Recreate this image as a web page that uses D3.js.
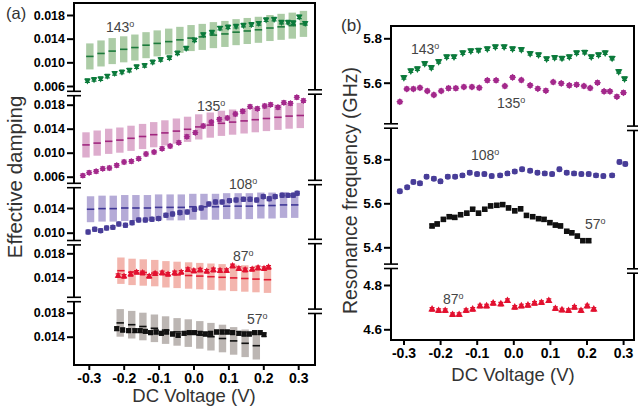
<!DOCTYPE html>
<html><head><meta charset="utf-8">
<script src="https://cdn.jsdelivr.net/npm/d3@7"></script>
<style>
body{margin:0;background:#fff}
svg{display:block}
text{font-family:"Liberation Sans",Arial,Helvetica,sans-serif}
</style>
</head><body>
<svg id="c" width="638" height="414"></svg>
<script>
// ================= DATA =================
const xTicks = [-0.3, -0.2, -0.1, 0.0, 0.1, 0.2, 0.3];
const angleLabels = ["143", "135", "108", "87", "57"];

// ---- (a) Effective damping: measured points ----
const damp143X = [-0.304,-0.285,-0.266,-0.247,-0.226,-0.205,-0.184,-0.163,-0.140,-0.117,-0.094,-0.069,-0.046,-0.021,0.003,0.028,0.053,0.076,0.099,0.122,0.143,0.166,0.187,0.208,0.231,0.252,0.271,0.286,0.303,0.320];
const damp143Y = [0.00690,0.00713,0.00723,0.00769,0.00815,0.00837,0.00870,0.00926,0.00950,0.01006,0.0105,0.0108,0.0116,0.0124,0.0138,0.0147,0.0151,0.0158,0.0160,0.0161,0.0163,0.0164,0.0166,0.0172,0.0173,0.0168,0.0168,0.0167,0.0177,0.0166];

const damp135X = [-0.317,-0.299,-0.279,-0.260,-0.241,-0.220,-0.199,-0.178,-0.157,-0.136,-0.113,-0.090,-0.067,-0.042,-0.019,0.005,0.028,0.051,0.074,0.097,0.120,0.141,0.162,0.183,0.204,0.221,0.242,0.259,0.278,0.296,0.315];
const damp135Y = [0.00618,0.00667,0.0069,0.00733,0.00745,0.0079,0.00845,0.00857,0.0090,0.00978,0.0101,0.01067,0.0111,0.01167,0.01267,0.01333,0.01445,0.0151,0.01557,0.01578,0.01645,0.0169,0.01767,0.01733,0.01778,0.0180,0.01757,0.01833,0.01823,0.01923,0.01867];

const damp108X = [-0.302,-0.283,-0.266,-0.249,-0.231,-0.214,-0.195,-0.176,-0.157,-0.138,-0.119,-0.100,-0.079,-0.060,-0.039,-0.018,0.003,0.022,0.044,0.063,0.082,0.103,0.122,0.143,0.162,0.181,0.200,0.217,0.234,0.254,0.271,0.286,0.297];
const damp108Y = [0.01011,0.01055,0.01033,0.01076,0.01087,0.01141,0.0112,0.01162,0.01206,0.01206,0.01217,0.01228,0.01282,0.01303,0.01325,0.01335,0.01379,0.0140,0.01465,0.01497,0.01497,0.01519,0.0153,0.01541,0.01541,0.0153,0.01584,0.01551,0.01584,0.01605,0.01605,0.01605,0.01638];

const damp87X = [-0.216,-0.199,-0.180,-0.163,-0.146,-0.127,-0.110,-0.090,-0.073,-0.054,-0.035,-0.016,0.001,0.019,0.038,0.057,0.076,0.095,0.112,0.130,0.148,0.168,0.185,0.202,0.215];
const damp87Y = [0.01427,0.01416,0.0145,0.01483,0.01472,0.01416,0.0146,0.01472,0.0145,0.01472,0.01483,0.01527,0.01505,0.01520,0.0150,0.01522,0.0151,0.0151,0.01588,0.01543,0.01522,0.01533,0.01555,0.01543,0.01567];

const damp57X = [-0.220,-0.203,-0.186,-0.168,-0.153,-0.138,-0.123,-0.107,-0.092,-0.077,-0.060,-0.044,-0.027,-0.012,0.003,0.019,0.034,0.049,0.066,0.082,0.097,0.112,0.130,0.145,0.160,0.175,0.191,0.202];
const damp57Y = [0.01533,0.01512,0.0150,0.0150,0.0150,0.0149,0.01467,0.01478,0.01457,0.01478,0.01445,0.01423,0.01457,0.01467,0.01467,0.01457,0.01445,0.01457,0.01478,0.01478,0.01478,0.01467,0.01457,0.01445,0.01445,0.01467,0.01467,0.01433];

const dampErr = 0.0003;

// ---- (a) model bands: centre value and half-width ----
const band143X = [-0.297,-0.265,-0.233,-0.200,-0.168,-0.136,-0.104,-0.071,-0.039,-0.007,0.025,0.057,0.090,0.122,0.154,0.186,0.219,0.251,0.283,0.315];
const band143C = [0.0110,0.0115,0.0119,0.0122,0.0125,0.0129,0.0132,0.0135,0.0138,0.0141,0.0143,0.0146,0.0148,0.0151,0.0153,0.0155,0.0158,0.0160,0.0162,0.0165];
const band143H = 0.0022;

const band135X = [-0.308,-0.276,-0.243,-0.211,-0.179,-0.146,-0.114,-0.082,-0.049,-0.017,0.015,0.048,0.080,0.112,0.145,0.177,0.209,0.242,0.274,0.306];
const band135C = [0.0113,0.0116,0.0119,0.0121,0.0124,0.0127,0.0130,0.0133,0.0136,0.0139,0.0143,0.0146,0.0149,0.0151,0.0153,0.0155,0.0157,0.0159,0.0161,0.0162];
const band135H = 0.0021;

const band108X = [-0.295,-0.262,-0.230,-0.197,-0.165,-0.132,-0.100,-0.067,-0.035,-0.002,0.030,0.063,0.095,0.128,0.160,0.193,0.225,0.258,0.290];
const band108C = [0.0138,0.0139,0.0139,0.0140,0.0140,0.0140,0.0141,0.0141,0.0141,0.0142,0.0142,0.0142,0.0143,0.0143,0.0143,0.0144,0.0144,0.0145,0.0145];
const band108H = 0.0021;

const band87X = [-0.208,-0.176,-0.144,-0.111,-0.079,-0.047,-0.014,0.018,0.050,0.082,0.115,0.147,0.179,0.212];
const band87C = [0.0151,0.0149,0.0148,0.0147,0.0145,0.0144,0.0143,0.0142,0.0141,0.0140,0.0139,0.0138,0.0137,0.0136];
const band87H = 0.0022;

const band57X = [-0.210,-0.177,-0.145,-0.112,-0.080,-0.047,-0.015,0.018,0.050,0.083,0.115,0.148,0.180];
const band57C = [0.0163,0.0160,0.0157,0.0154,0.0151,0.0148,0.0146,0.0143,0.0140,0.0137,0.0133,0.0129,0.0125];
const band57H = 0.0023;

// ---- (b) Resonance frequency (GHz) ----
const freq143X = [-0.299,-0.280,-0.262,-0.242,-0.224,-0.204,-0.182,-0.162,-0.138,-0.116,-0.095,-0.071,-0.049,-0.025,-0.002,0.022,0.046,0.069,0.091,0.113,0.133,0.153,0.173,0.195,0.213,0.233,0.251,0.270,0.288,0.304];
const freq143Y = [5.624,5.654,5.663,5.687,5.669,5.696,5.717,5.717,5.735,5.744,5.747,5.753,5.762,5.762,5.753,5.750,5.732,5.726,5.708,5.714,5.711,5.717,5.735,5.738,5.717,5.726,5.735,5.711,5.651,5.618];

const freq135X = [-0.310,-0.291,-0.273,-0.255,-0.235,-0.217,-0.197,-0.177,-0.157,-0.135,-0.113,-0.093,-0.071,-0.047,-0.023,-0.002,0.022,0.046,0.067,0.089,0.109,0.131,0.153,0.173,0.193,0.210,0.230,0.248,0.264,0.283,0.301];
const freq135Y = [5.514,5.572,5.572,5.577,5.563,5.545,5.563,5.575,5.575,5.581,5.581,5.577,5.611,5.611,5.585,5.624,5.612,5.588,5.573,5.564,5.603,5.597,5.588,5.591,5.585,5.576,5.600,5.561,5.561,5.537,5.555];

const freq108X = [-0.310,-0.290,-0.273,-0.255,-0.237,-0.217,-0.199,-0.179,-0.159,-0.139,-0.119,-0.099,-0.079,-0.059,-0.036,-0.016,0.004,0.024,0.046,0.066,0.086,0.106,0.126,0.146,0.166,0.186,0.206,0.226,0.246,0.270,0.290,0.306];
const freq108Y = [5.655,5.673,5.697,5.691,5.721,5.712,5.700,5.721,5.721,5.727,5.739,5.733,5.733,5.724,5.727,5.736,5.745,5.755,5.748,5.739,5.736,5.733,5.755,5.739,5.736,5.733,5.733,5.727,5.724,5.727,5.788,5.779];

const freq57X = [-0.222,-0.208,-0.191,-0.175,-0.160,-0.144,-0.127,-0.111,-0.095,-0.078,-0.062,-0.045,-0.029,-0.013,0.004,0.020,0.036,0.053,0.069,0.084,0.100,0.115,0.129,0.146,0.160,0.175,0.190,0.206];
const freq57Y = [5.497,5.506,5.527,5.539,5.536,5.548,5.555,5.573,5.555,5.573,5.588,5.591,5.594,5.579,5.566,5.575,5.545,5.539,5.530,5.527,5.512,5.501,5.497,5.473,5.466,5.451,5.430,5.430];

const freq87X = [-0.222,-0.204,-0.186,-0.166,-0.148,-0.129,-0.111,-0.091,-0.073,-0.055,-0.034,-0.016,0.004,0.022,0.040,0.058,0.077,0.097,0.115,0.133,0.151,0.167,0.185,0.202,0.220];
const freq87Y = [4.690,4.684,4.684,4.666,4.666,4.684,4.690,4.705,4.705,4.717,4.714,4.729,4.699,4.705,4.708,4.717,4.720,4.729,4.693,4.687,4.684,4.699,4.684,4.705,4.690];

const freqErr = 0.008;

// ================= STYLE / LAYOUT =================
const C = {
  g: {mk:"#0b7a3b", band:"#acccA6", line:"#1c7a3c"},
  m: {mk:"#a3288b", band:"#ddaccd", line:"#a0267f"},
  b: {mk:"#483d98", band:"#b5abd7", line:"#3f3796"},
  r: {mk:"#e2102f", band:"#f3b5ad", line:"#e21b33"},
  k: {mk:"#111111", band:"#bcb6b3", line:"#111111"}
};
const svg = d3.select("#c");
const AXW = 2;

const PA = {x0:74, x1:315, top:3, bottom:365};
const PB = {x0:391, x1:634, top:26, bottom:340};
const xA = d3.scaleLinear().domain([-0.3, 0.3]).range([88.8, 298.2]);
const xB = d3.scaleLinear().domain([-0.3, 0.3]).range([403.5, 623.1]);

const yA143 = d3.scaleLinear().domain([0.006, 0.018]).range([86, 15]);
const yA135 = d3.scaleLinear().domain([0.006, 0.018]).range([176.7, 104.7]);
const yA108 = d3.scaleLinear().domain([0.010, 0.014]).range([232.7, 208]);
const yA87  = d3.scaleLinear().domain([0.014, 0.018]).range([277.3, 253.3]);
const yA57  = d3.scaleLinear().domain([0.014, 0.018]).range([336.7, 312.7]);

const yBtop = d3.scaleLinear().domain([5.6, 5.8]).range([82.7, 38.3]);
const yBmid = d3.scaleLinear().domain([5.4, 5.8]).range([247.3, 159.3]);
const yBbot = d3.scaleLinear().domain([4.6, 4.8]).range([329.3, 285]);

// ================= HELPERS =================
function brokenV(x, y0, y1, breaks) {
  const pts = [y0];
  breaks.forEach(b => { pts.push(b - 2.2); pts.push(b + 2.2); });
  pts.push(y1);
  for (let i = 0; i < pts.length; i += 2) {
    svg.append("line").attr("x1", x).attr("x2", x).attr("y1", pts[i]).attr("y2", pts[i+1])
      .attr("stroke", "#000").attr("stroke-width", AXW);
  }
  breaks.forEach(b => {
    [-2.2, 2.2].forEach(o => svg.append("line").attr("x1", x - 7).attr("x2", x + 7)
      .attr("y1", b + o).attr("y2", b + o).attr("stroke", "#000").attr("stroke-width", 1.6));
  });
}
function hLine(x0, x1, y) {
  svg.append("line").attr("x1", x0 - AXW/2).attr("x2", x1 + AXW/2).attr("y1", y).attr("y2", y)
    .attr("stroke", "#000").attr("stroke-width", AXW);
}
function yAxis(x, scale, ticks, fmt, fs) {
  const g = svg.append("g").attr("transform", `translate(${x},0)`)
    .call(d3.axisLeft(scale).tickValues(ticks).tickSize(7).tickPadding(2).tickFormat(fmt));
  g.select(".domain").remove();
  g.selectAll(".tick line").attr("stroke", "#000").attr("stroke-width", AXW);
  g.selectAll(".tick text").attr("fill", "#000").attr("font-weight", "bold")
    .attr("font-size", fs).attr("font-family", '"Liberation Sans",Arial,sans-serif');
}
function xAxis(y, scale) {
  const g = svg.append("g").attr("transform", `translate(0,${y})`)
    .call(d3.axisBottom(scale).tickValues(xTicks).tickSize(5).tickPadding(3)
      .tickFormat(d => (Math.abs(d) < 1e-9 ? 0 : d).toFixed(1)));
  g.select(".domain").remove();
  g.selectAll(".tick line").attr("stroke", "#000").attr("stroke-width", AXW);
  g.selectAll(".tick text").attr("fill", "#000").attr("font-weight", "bold")
    .attr("font-size", 14).attr("font-family", '"Liberation Sans",Arial,sans-serif');
}
function bands(xs, cs, half, xs_, ys_, col) {
  const w = 7.4;
  const data = xs.map((x, i) => ({x, c: cs[i]}));
  const g = svg.append("g");
  g.selectAll("rect").data(data).enter().append("rect")
    .attr("x", d => xs_(d.x) - w/2).attr("width", w)
    .attr("y", d => ys_(d.c + half)).attr("height", d => ys_(d.c - half) - ys_(d.c + half))
    .attr("fill", col.band);
  g.selectAll("line").data(data).enter().append("line")
    .attr("x1", d => xs_(d.x) - w/2).attr("x2", d => xs_(d.x) + w/2)
    .attr("y1", d => ys_(d.c)).attr("y2", d => ys_(d.c))
    .attr("stroke", col.line).attr("stroke-width", 1.6);
}
const SHAPES = {
  down: [d3.symbolTriangle, 180],
  up: [d3.symbolTriangle, 0],
  diamond: [d3.symbolSquare, 45],
  circle: [d3.symbolCircle, 0],
  square: [d3.symbolSquare, 0]
};
function points(xs, ys, err, xs_, ys_, shape, size, color) {
  const data = xs.map((x, i) => ({x, y: ys[i]}));
  const g = svg.append("g");
  g.selectAll("path.e").data(data).enter().append("path")
    .attr("d", d => {
      const px = xs_(d.x), a = ys_(d.y + err), b = ys_(d.y - err);
      return `M${px-2.5},${a}H${px+2.5}M${px},${a}V${b}M${px-2.5},${b}H${px+2.5}`;
    })
    .attr("stroke", color).attr("stroke-width", 1.2).attr("fill", "none");
  const [type, rot] = SHAPES[shape];
  g.selectAll("path.m").data(data).enter().append("path")
    .attr("transform", d => `translate(${xs_(d.x)},${ys_(d.y)}) rotate(${rot})`)
    .attr("d", d3.symbol().type(type).size(size)).attr("fill", color);
}
function angleText(x, y, t) {
  const tx = svg.append("text").attr("x", x).attr("y", y).attr("fill", "#444").attr("font-size", 14);
  tx.append("tspan").text(t);
  tx.append("tspan").attr("dy", -5).attr("font-size", 9).text("o");
}

// ================= PANEL (a) =================
bands(band143X, band143C, band143H, xA, yA143, C.g);
bands(band135X, band135C, band135H, xA, yA135, C.m);
bands(band108X, band108C, band108H, xA, yA108, C.b);
bands(band87X, band87C, band87H, xA, yA87, C.r);
bands(band57X, band57C, band57H, xA, yA57, C.k);

points(damp143X, damp143Y, dampErr, xA, yA143, "down", 19, C.g.mk);
points(damp135X, damp135Y, dampErr, xA, yA135, "diamond", 21, C.m.mk);
points(damp108X, damp108Y, dampErr, xA, yA108, "circle", 24, C.b.mk);
points(damp87X, damp87Y, dampErr, xA, yA87, "up", 20, C.r.mk);
points(damp57X, damp57Y, dampErr, xA, yA57, "square", 26, C.k.mk);

brokenV(PA.x0, PA.top - AXW/2, PA.bottom + AXW/2, [93.5, 185.5, 242.7, 299.5]);
brokenV(PA.x1, PA.top - AXW/2, PA.bottom + AXW/2, [92, 182.5, 241.5, 311.3]);
hLine(PA.x0, PA.x1, PA.top);
hLine(PA.x0, PA.x1, PA.bottom);

const fmt3 = d3.format(".3f");
yAxis(PA.x0, yA143, [0.006, 0.010, 0.014, 0.018], fmt3, 12.5);
yAxis(PA.x0, yA135, [0.006, 0.010, 0.014, 0.018], fmt3, 12.5);
yAxis(PA.x0, yA108, [0.010, 0.014], fmt3, 12.5);
yAxis(PA.x0, yA87, [0.014, 0.018], fmt3, 12.5);
yAxis(PA.x0, yA57, [0.014, 0.018], fmt3, 12.5);
xAxis(PA.bottom, xA);

angleText(106, 32, angleLabels[0]);
angleText(197, 110.5, angleLabels[1]);
angleText(229, 188.5, angleLabels[2]);
angleText(233, 261.3, angleLabels[3]);
angleText(247, 324, angleLabels[4]);

svg.append("text").attr("x", 194).attr("y", 402).attr("text-anchor", "middle")
  .attr("font-size", 18.5).attr("fill", "#333").text("DC Voltage (V)");
svg.append("text").attr("transform", "translate(22,177) rotate(-90)").attr("text-anchor", "middle")
  .attr("font-size", 20.5).attr("fill", "#333").text("Effective damping");
svg.append("text").attr("x", 6).attr("y", 19).attr("font-size", 16.5).attr("fill", "#333").text("(a)");

// ================= PANEL (b) =================
points(freq143X, freq143Y, freqErr, xB, yBtop, "down", 24, C.g.mk);
points(freq135X, freq135Y, freqErr, xB, yBtop, "diamond", 25, C.m.mk);
points(freq108X, freq108Y, freqErr, xB, yBmid, "circle", 28, C.b.mk);
points(freq57X, freq57Y, freqErr, xB, yBmid, "square", 31, C.k.mk);
points(freq87X, freq87Y, freqErr, xB, yBbot, "up", 24, C.r.mk);

brokenV(PB.x0, PB.top - AXW/2, PB.bottom + AXW/2, [126, 266.3]);
brokenV(PB.x1, PB.top - AXW/2, PB.bottom + AXW/2, [128.3, 271]);
hLine(PB.x0, PB.x1, PB.top);
hLine(PB.x0, PB.x1, PB.bottom);

const fmt1 = d3.format(".1f");
yAxis(PB.x0, yBtop, [5.6, 5.8], fmt1, 13.5);
yAxis(PB.x0, yBmid, [5.4, 5.6, 5.8], fmt1, 13.5);
yAxis(PB.x0, yBbot, [4.6, 4.8], fmt1, 13.5);
xAxis(PB.bottom, xB);

angleText(411, 53.5, angleLabels[0]);
angleText(497, 108, angleLabels[1]);
angleText(471, 159.5, angleLabels[2]);
angleText(585, 228.5, angleLabels[4]);
angleText(443, 303.5, angleLabels[3]);

svg.append("text").attr("x", 513).attr("y", 381).attr("text-anchor", "middle")
  .attr("font-size", 18.5).attr("fill", "#333").text("DC Voltage (V)");
svg.append("text").attr("transform", "translate(357,190.5) rotate(-90)").attr("text-anchor", "middle")
  .attr("font-size", 19.5).attr("fill", "#333").text("Resonance frequency (GHz)");
svg.append("text").attr("x", 341).attr("y", 31).attr("font-size", 17).attr("fill", "#333").text("(b)");
</script>
</body></html>
